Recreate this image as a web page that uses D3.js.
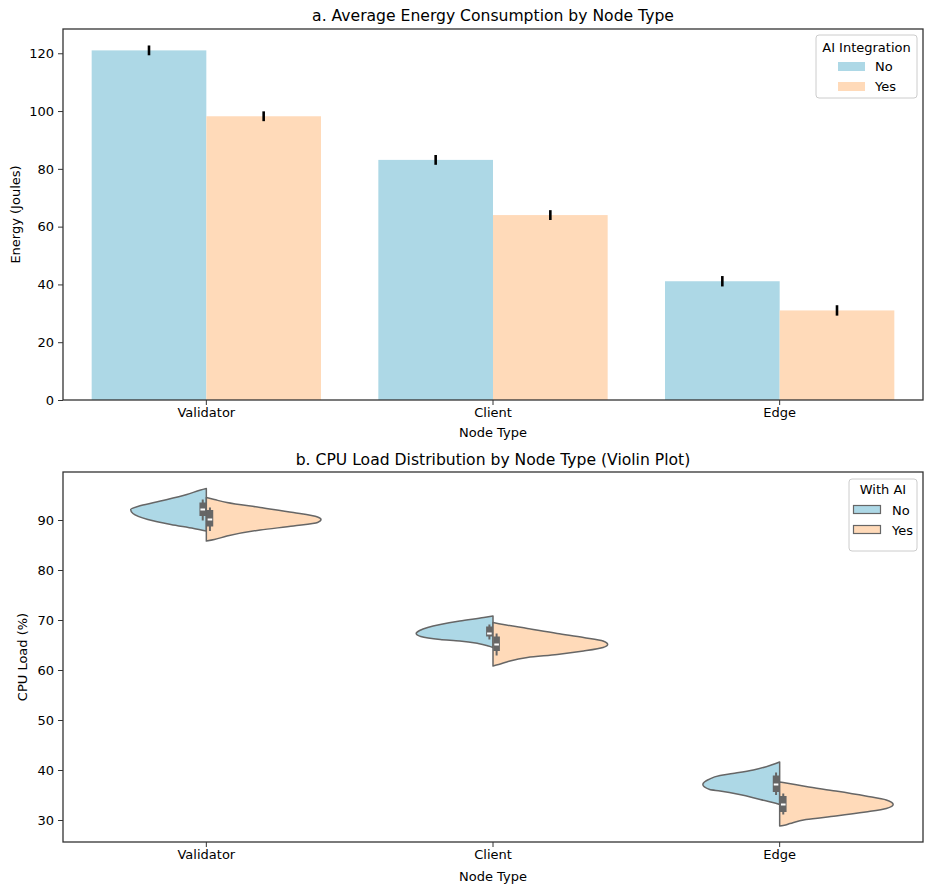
<!DOCTYPE html>
<html><head><meta charset="utf-8">
<script src="https://cdn.jsdelivr.net/npm/d3@7"></script>
<style>body{margin:0;background:#fff}svg{display:block;font-family:"DejaVu Sans",sans-serif}</style>
</head><body><svg id="c" width="935" height="888"></svg>
<script>
// ---------- data ----------
const categories = ["Validator", "Client", "Edge"];
const hues = ["No", "Yes"];
const energyNo = [121.0, 83.1, 41.1];
const energyYes = [98.2, 64.0, 31.0];
const energyErrNo = [1.7, 1.7, 1.8];
const energyErrYes = [1.7, 1.7, 1.8];
const energyTicks = [0, 20, 40, 60, 80, 100, 120];
const cpuTicks = [30, 40, 50, 60, 70, 80, 90];
// violin density profiles: [value, relative density]
const violinNo = [
  [[96.3,0],[96.0,0.05],[95.1,0.17],[93.8,0.40],[92.9,0.57],[92.1,0.66],[91.3,0.64],[90.1,0.51],[89.1,0.31],[88.3,0.11],[87.8,0]],
  [[70.8,0],[70.5,0.08],[69.8,0.29],[69.1,0.46],[68.5,0.57],[67.9,0.64],[67.3,0.67],[66.7,0.63],[66.1,0.46],[65.8,0.29],[65.3,0.13],[64.8,0.04],[64.5,0]],
  [[41.6,0],[41.1,0.06],[40.0,0.23],[39.3,0.41],[38.9,0.52],[38.1,0.62],[37.1,0.67],[36.1,0.61],[35.8,0.52],[35.1,0.35],[34.1,0.17],[33.5,0.06],[33.1,0]]
];
const violinYes = [
  [[94.5,0],[94.1,0.07],[93.5,0.18],[92.5,0.47],[91.5,0.76],[90.6,0.97],[90.1,1.0],[89.5,0.97],[88.8,0.76],[88.0,0.47],[86.8,0.18],[86.1,0.07],[85.8,0]],
  [[69.5,0],[69.1,0.09],[68.3,0.30],[67.3,0.56],[66.5,0.79],[65.8,0.96],[65.1,1.0],[64.5,0.96],[63.8,0.79],[63.1,0.56],[62.5,0.30],[61.6,0.12],[61.1,0.05],[60.8,0]],
  [[37.6,0],[37.5,0.03],[36.7,0.23],[35.8,0.49],[34.8,0.75],[34.0,0.93],[33.1,0.99],[32.3,0.93],[31.6,0.75],[30.8,0.49],[30.1,0.23],[29.3,0.09],[28.9,0.03],[28.8,0]]
];
// box stats: [whiskerLow, Q1, median, Q3, whiskerHigh]
const boxNo = [[89.9, 90.8, 92.1, 93.5, 94.1],[66.1, 66.7, 67.3, 68.7, 69.1],[35.0, 35.6, 37.1, 38.9, 39.5]];
const boxYes = [[87.8, 88.7, 90.1, 92.0, 92.5],[62.9, 63.8, 65.1, 66.7, 67.3],[31.1, 31.6, 33.1, 34.8, 35.3]];

// ---------- setup ----------
const svg = d3.select("#c");
const colors = {No: "#ADD8E6", Yes: "#FFDAB9"};
const L = 63, R = 923;
const axisColor = "#333";
const FS = "13px", TFS = "15.6px";

function styleAxis(g){
  g.selectAll("path.domain").remove();
  g.selectAll(".tick line").attr("stroke", axisColor).attr("stroke-width", 1);
  g.selectAll(".tick text").attr("fill", "#000").style("font-size", FS).style("font-family", "DejaVu Sans");
}

// ---------- panel a ----------
const yA = d3.scaleLinear().domain([0, 128.4]).range([400, 29]);
const xA = d3.scaleBand().domain(categories).range([L, R]).padding(0);
const bw = xA.bandwidth();
const barW = bw * 0.4;

const barData = [];
categories.forEach((c, i) => {
  barData.push({c, h: "No", v: energyNo[i], e: energyErrNo[i]});
  barData.push({c, h: "Yes", v: energyYes[i], e: energyErrYes[i]});
});
const gA = svg.append("g");
gA.selectAll("rect.bar").data(barData).join("rect")
  .attr("x", d => xA(d.c) + bw/2 + (d.h === "No" ? -barW : 0))
  .attr("width", barW)
  .attr("y", d => yA(d.v))
  .attr("height", d => yA(0) - yA(d.v))
  .attr("fill", d => colors[d.h]);
gA.selectAll("line.err").data(barData).join("line")
  .attr("x1", d => xA(d.c) + bw/2 + (d.h === "No" ? -barW/2 : barW/2))
  .attr("x2", d => xA(d.c) + bw/2 + (d.h === "No" ? -barW/2 : barW/2))
  .attr("y1", d => yA(d.v - d.e)).attr("y2", d => yA(d.v + d.e))
  .attr("stroke", "#000").attr("stroke-width", 2.6);

const axA_y = gA.append("g").attr("transform", `translate(${L},0)`)
  .call(d3.axisLeft(yA).tickValues(energyTicks).tickSize(5).tickPadding(4));
styleAxis(axA_y);
const axA_x = gA.append("g").attr("transform", `translate(0,400)`)
  .call(d3.axisBottom(xA).tickSize(5).tickPadding(3));
styleAxis(axA_x);
gA.append("rect").attr("x", L).attr("y", 29).attr("width", R - L).attr("height", 371)
  .attr("fill", "none").attr("stroke", axisColor).attr("stroke-width", 1.3);
gA.append("text").attr("x", (L+R)/2).attr("y", 20.5).attr("text-anchor", "middle")
  .style("font-size", TFS).text("a. Average Energy Consumption by Node Type");
gA.append("text").attr("x", (L+R)/2).attr("y", 437).attr("text-anchor", "middle")
  .style("font-size", FS).text("Node Type");
gA.append("text").attr("transform", `translate(19.5,${(29+400)/2}) rotate(-90)`).attr("text-anchor", "middle")
  .style("font-size", FS).text("Energy (Joules)");

// legend a
const lgA = gA.append("g");
lgA.append("rect").attr("x", 816).attr("y", 35).attr("width", 101).attr("height", 63).attr("rx", 3)
  .attr("fill", "#fff").attr("fill-opacity", 0.8).attr("stroke", "#ccc");
lgA.append("text").attr("x", 866.5).attr("y", 51.5).attr("text-anchor", "middle").style("font-size", FS).text("AI Integration");
hues.forEach((h, i) => {
  lgA.append("rect").attr("x", 838).attr("y", 62 + i*20).attr("width", 27).attr("height", 9).attr("fill", colors[h]);
  lgA.append("text").attr("x", 875).attr("y", 71 + i*20).style("font-size", FS).text(h);
});

// ---------- panel b ----------
const yB = d3.scaleLinear().domain([25.6, 99.6]).range([842, 472]);
const xB = d3.scaleBand().domain(categories).range([L, R]).padding(0);
const halfW = d3.scaleLinear().domain([0, 1]).range([0, xB.bandwidth() * 0.4]);
const gB = svg.append("g");

categories.forEach((c, i) => {
  const cx = xB(c) + xB.bandwidth()/2;
  [["No", violinNo[i], -1], ["Yes", violinYes[i], 1]].forEach(([h, prof, sgn]) => {
    const area = d3.area()
      .y(d => yB(d[0]))
      .x0(cx)
      .x1(d => cx + sgn * halfW(d[1]))
      .curve(d3.curveMonotoneY);
    const sorted = prof.slice().sort((a, b) => b[0] - a[0]);
    gB.append("path").attr("d", area(sorted))
      .attr("fill", colors[h]).attr("stroke", "#666").attr("stroke-width", 1.5).attr("stroke-linejoin", "round");
  });
});
// inner boxes
categories.forEach((c, i) => {
  const cx = xB(c) + xB.bandwidth()/2;
  [["No", boxNo[i], -1], ["Yes", boxYes[i], 1]].forEach(([h, b, sgn]) => {
    const bx = cx + sgn * 3.6;
    gB.append("line").attr("x1", bx).attr("x2", bx).attr("y1", yB(b[0])).attr("y2", yB(b[4]))
      .attr("stroke", "#666").attr("stroke-width", 2);
    gB.append("rect").attr("x", bx - 3.3).attr("width", 6.6).attr("y", yB(b[3])).attr("height", yB(b[1]) - yB(b[3]))
      .attr("fill", "#666");
    gB.append("rect").attr("x", bx - 2.3).attr("width", 4.6).attr("y", yB(b[2]) - 1).attr("height", 2)
      .attr("fill", "#fff");
  });
});

const axB_y = gB.append("g").attr("transform", `translate(${L},0)`)
  .call(d3.axisLeft(yB).tickValues(cpuTicks).tickSize(5).tickPadding(4));
styleAxis(axB_y);
const axB_x = gB.append("g").attr("transform", `translate(0,842)`)
  .call(d3.axisBottom(xB).tickSize(5).tickPadding(3));
styleAxis(axB_x);
gB.append("rect").attr("x", L).attr("y", 472).attr("width", R - L).attr("height", 370)
  .attr("fill", "none").attr("stroke", axisColor).attr("stroke-width", 1.3);
gB.append("text").attr("x", (L+R)/2).attr("y", 464.5).attr("text-anchor", "middle")
  .style("font-size", TFS).text("b. CPU Load Distribution by Node Type (Violin Plot)");
gB.append("text").attr("x", (L+R)/2).attr("y", 881).attr("text-anchor", "middle")
  .style("font-size", FS).text("Node Type");
gB.append("text").attr("transform", `translate(26.5,${(472+842)/2}) rotate(-90)`).attr("text-anchor", "middle")
  .style("font-size", FS).text("CPU Load (%)");

// legend b
const lgB = gB.append("g");
lgB.append("rect").attr("x", 849).attr("y", 479).attr("width", 68).attr("height", 72).attr("rx", 3)
  .attr("fill", "#fff").attr("fill-opacity", 0.8).attr("stroke", "#ccc");
lgB.append("text").attr("x", 883).attr("y", 493.5).attr("text-anchor", "middle").style("font-size", FS).text("With AI");
hues.forEach((h, i) => {
  lgB.append("rect").attr("x", 853.5).attr("y", 505.5 + i*20).attr("width", 27).attr("height", 8)
    .attr("fill", colors[h]).attr("stroke", "#666").attr("stroke-width", 1.2);
  lgB.append("text").attr("x", 892).attr("y", 514.5 + i*20).style("font-size", FS).text(h);
});
</script></body></html>
